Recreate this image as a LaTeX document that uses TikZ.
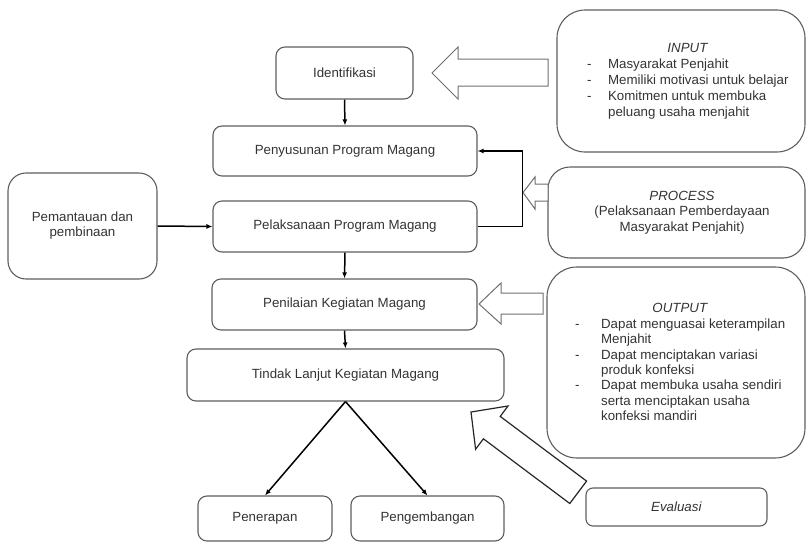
\documentclass[tikz,border=0pt]{standalone}
\usepackage{fontspec}
\setmainfont{Liberation Sans}
\usetikzlibrary{arrows.meta}
\definecolor{txt}{HTML}{333333}
\definecolor{edge}{HTML}{5E5E5E}
\definecolor{hol}{HTML}{707070}
\begin{document}
\begin{tikzpicture}[x=1pt,y=-1pt,
  box/.style={draw=edge, line width=1.1pt, rounded corners=#1, inner sep=0pt,
    text=txt, align=center, font=\fontsize{13.3}{15}\selectfont},
  box/.default=9pt,
  flow/.style={line width=1.5pt, -{Latex[length=6pt,width=5pt]}},
  hollow/.style={draw=hol, line width=1pt, fill=white, line join=miter},
  lbl/.style={inner sep=0pt, text=txt, font=\fontsize{13.3}{16}\selectfont}
]
\useasboundingbox (0,0) rectangle (807,544);

% flow boxes
\node[box, minimum width=137pt, minimum height=52pt] (iden) at (344.5,73) {Identifikasi};
\node[box, minimum width=264pt, minimum height=50pt] (penyu) at (345,151) {Penyusunan Program Magang};
\node[box, minimum width=264pt, minimum height=51pt] (pelak) at (345,226.5) {Pelaksanaan Program Magang};
\node[box, minimum width=265pt, minimum height=51pt] (penil) at (344.5,304.5) {Penilaian Kegiatan Magang};
\node[box, minimum width=317pt, minimum height=52pt] (tindak) at (345.5,375) {Tindak Lanjut Kegiatan Magang};
\node[box, minimum width=134pt, minimum height=45pt] (pener) at (265,518.5) {Penerapan};
\node[box, minimum width=153pt, minimum height=45pt] (pengem) at (427.5,518.5) {Pengembangan};
\node[box=18pt, minimum width=149pt, minimum height=106pt] (pemant) at (82.5,226) {Pemantauan dan\\pembinaan};

% side boxes
\node[box=28pt, minimum width=248pt, minimum height=142pt] (inbox) at (681,81) {};
\node[box=22pt, minimum width=257pt, minimum height=91pt] (procbox) at (676.5,212.5) {};
\node[box=30pt, minimum width=258pt, minimum height=191pt] (outbox) at (676,362.5) {};
\node[box=7pt, minimum width=181pt, minimum height=38pt] (evalbox) at (676.5,507) {\textit{Evaluasi}};

% side texts
\node[lbl, anchor=north west] (intext) at (587,41) {%
  \begin{tabular}{@{}l@{\hspace{16.5pt}}l@{}}
  \multicolumn{2}{c}{\textit{INPUT}}\\
  - & Masyarakat Penjahit\\
  - & Memiliki motivasi untuk belajar\\
  - & Komitmen untuk membuka\\
    & peluang usaha menjahit
  \end{tabular}};
\node[lbl, align=center, font=\fontsize{13.3}{15.5}\selectfont] (proctext) at (682,212.5)
  {\textit{PROCESS}\\(Pelaksanaan Pemberdayaan\\Masyarakat Penjahit)};
\node[lbl, anchor=north west, font=\fontsize{13.3}{15.4}\selectfont] (outtext) at (575,302) {%
  \begin{tabular}{@{}l@{\hspace{21.5pt}}l@{}}
  \multicolumn{2}{c}{\textit{OUTPUT}}\\
  - & Dapat menguasai keterampilan\\
    & Menjahit\\
  - & Dapat menciptakan variasi\\
    & produk konfeksi\\
  - & Dapat membuka usaha sendiri\\
    & serta menciptakan usaha\\
    & konfeksi mandiri
  \end{tabular}};

% hollow block arrows
\draw[hollow] (548,59) -- (458,59) -- (458,47) -- (432,73) -- (458,99) -- (458,86) -- (548,86) -- cycle;
\draw[hollow] (548,184) -- (535,184) -- (535,177) -- (523,192.5) -- (535,209) -- (535,201) -- (548,201) -- cycle;
\draw[hollow] (543,293) -- (501,293) -- (501,283) -- (479,304) -- (501,324) -- (501,314) -- (543,314) -- cycle;
\draw[hollow, draw=black!85, line width=1.2pt]
  (586.6,481.1) -- (500.2,416.4) -- (508.0,406.0) -- (471,412) -- (475.6,449.2) -- (483.4,438.8) -- (569.8,503.5) -- cycle;

% connectors
\draw[flow] (iden.south) -- (penyu.north);
\draw[flow] (pemant.east) -- (pelak.west);
\draw[flow] (pelak.east) -- ++(45,0) |- (penyu.east);
\draw[flow] (pelak.south) -- (penil.north);
\draw[flow] (penil.south) -- (tindak.north);
\draw[flow] (tindak.south) -- (pener.north);
\draw[flow] (tindak.south) -- (pengem.north);
\end{tikzpicture}
\end{document}
